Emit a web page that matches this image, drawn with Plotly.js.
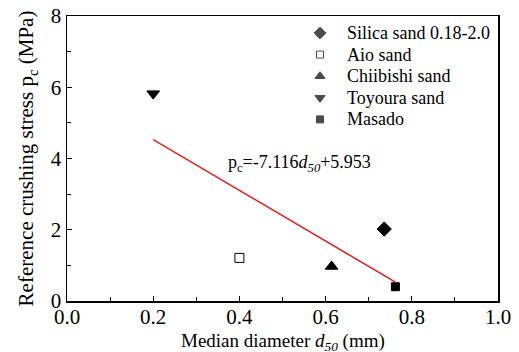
<!DOCTYPE html>
<html>
<head>
<meta charset="utf-8">
<script src="https://cdn.plot.ly/plotly-3.0.1.min.js"></script>
<style>
  html, body { margin: 0; padding: 0; background: #fff; }
  #chart { width: 519px; height: 352px; }
</style>
</head>
<body>
<div id="chart"></div>
<script>
// Median diameter d50 (mm) and reference crushing stress pc (MPa) per sand
const sands = ['Silica sand 0.18-2.0', 'Aio sand', 'Chiibishi sand', 'Toyoura sand', 'Masado'];
const d50 = [0.736, 0.40, 0.614, 0.20, 0.762];
const pc = [2.02, 1.21, 0.97, 5.82, 0.40];
const symbols = ['diamond', 'square-open', 'triangle-up', 'triangle-down', 'square'];
const sizes = [11, 9, 11, 11, 8];
const keySizes = [9, 7, 9, 9, 7];

// Linear fit pc = slope * d50 + intercept, drawn over the Toyoura–Masado range
const fitSlope = -7.116;
const fitIntercept = 5.953;
const fitRange = [0.20, 0.762];

const font = '"Liberation Serif", "Times New Roman", serif';

// Plot-area frame in pixels, used by the hand-built key on an overlay axis pair
const frame = { left: 67, right: 498, top: 16, bottom: 301 };
const key = { symbolX: 320, textX: 345, firstRow: 33, rowStep: 21.6 };

const traces = sands.map((name, i) => ({
  type: 'scatter',
  mode: 'markers',
  name: name,
  x: [d50[i]],
  y: [pc[i]],
  marker: {
    symbol: symbols[i],
    size: sizes[i],
    color: '#000',
    line: { color: '#000', width: 1 }
  },
  showlegend: false
}));

traces.push({
  type: 'scatter',
  mode: 'lines',
  x: fitRange,
  y: fitRange.map(v => fitSlope * v + fitIntercept),
  line: { color: '#e3231f', width: 1.6 },
  showlegend: false,
  hoverinfo: 'skip'
});

// Key symbols
const rowY = sands.map((_, i) => key.firstRow + i * key.rowStep);
traces.push({
  type: 'scatter',
  mode: 'markers',
  xaxis: 'x2', yaxis: 'y2',
  x: sands.map(() => key.symbolX),
  y: rowY,
  marker: {
    symbol: symbols,
    size: keySizes,
    color: '#000',
    line: { color: '#000', width: 1 }
  },
  showlegend: false,
  hoverinfo: 'skip'
});

const keyLabels = sands.map((name, i) => ({
  xref: 'x2', yref: 'y2',
  x: key.textX, y: rowY[i],
  xanchor: 'left', yanchor: 'middle',
  showarrow: false,
  text: name,
  font: { family: font, size: 18, color: '#000' }
}));

const layout = {
  width: 519,
  height: 352,
  margin: { l: 67, r: 21, t: 16, b: 51 },
  paper_bgcolor: '#fff',
  plot_bgcolor: '#fff',
  font: { family: font, size: 18, color: '#000' },
  showlegend: false,
  xaxis: {
    range: [0, 1.0],
    dtick: 0.2,
    tickformat: '.1f',
    ticks: 'inside',
    ticklen: 5,
    tickcolor: '#000',
    minor: { ticks: 'inside', dtick: 0.1, ticklen: 4, tickcolor: '#000' },
    showline: true, linecolor: '#000', linewidth: 1.5, mirror: true,
    showgrid: false, zeroline: false,
    ticklabelstandoff: -4,
    tickfont: { family: font, size: 21 }
  },
  yaxis: {
    range: [0, 8],
    dtick: 2,
    ticks: 'inside',
    ticklen: 5,
    tickcolor: '#000',
    minor: { ticks: 'inside', dtick: 1, ticklen: 4, tickcolor: '#000' },
    showline: true, linecolor: '#000', linewidth: 1.5, mirror: true,
    showgrid: false, zeroline: false,
    tickfont: { family: font, size: 21 },
    title: {
      text: 'Reference crushing stress p<sub>c</sub> (MPa)',
      font: { family: font, size: 21 },
      standoff: 11
    }
  },
  xaxis2: {
    overlaying: 'x', range: [frame.left, frame.right],
    visible: false, fixedrange: true
  },
  yaxis2: {
    overlaying: 'y', range: [frame.bottom, frame.top],
    visible: false, fixedrange: true
  },
  annotations: [{
    xref: 'x', yref: 'y',
    x: 0.37, y: 3.86,
    xanchor: 'left', yanchor: 'middle',
    showarrow: false,
    text: 'p<sub>c</sub>=-7.116<i>d</i><sub><i>50</i></sub>+5.953',
    font: { family: font, size: 18, color: '#000' }
  }, {
    // x-axis title placed just beneath the tick labels
    xref: 'paper', yref: 'paper',
    x: 0.5, y: -0.093,
    xanchor: 'center', yanchor: 'top',
    showarrow: false,
    text: 'Median diameter <i>d</i><sub><i>50</i></sub> (mm)',
    font: { family: font, size: 19, color: '#000' }
  }].concat(keyLabels)
};

Plotly.newPlot('chart', traces, layout, { displayModeBar: false, staticPlot: true });
</script>
</body>
</html>
